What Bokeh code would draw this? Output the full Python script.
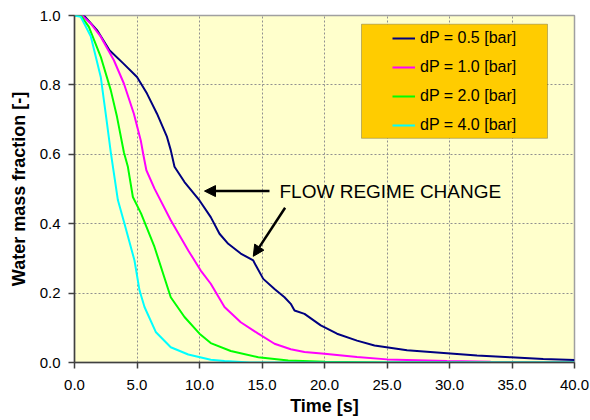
from bokeh.plotting import figure
from bokeh.models import (Range1d, FixedTicker, Legend, LegendItem, BoxAnnotation,
                          Arrow, NormalHead, Label)
from bokeh.embed import file_html
from bokeh.resources import INLINE

# ---------------- data ----------------
t_05 = [0, 0.75, 1.8, 2.8, 3.9, 5.0, 5.8, 6.6, 7.4, 7.7, 8.0, 8.8, 10.0, 10.9, 11.6,
        12.3, 13.3, 14.3, 14.5, 15.1, 16.0, 16.8, 17.3, 17.6, 18.4, 19.7, 21.0, 22.6,
        24.0, 26.6, 29.8, 32.2, 34.9, 37.5, 40.0]
v_05 = [1.0, 1.0, 0.958, 0.90, 0.862, 0.823, 0.775, 0.717, 0.65, 0.612, 0.564, 0.52,
        0.467, 0.419, 0.371, 0.342, 0.314, 0.294, 0.28, 0.241, 0.212, 0.188, 0.169,
        0.15, 0.14, 0.107, 0.083, 0.063, 0.049, 0.035, 0.027, 0.02, 0.015, 0.01, 0.007]

t_10 = [0, 0.6, 1.3, 2.1, 3.15, 3.95, 4.75, 5.3, 5.5, 5.75, 6.4, 7.7, 9.1, 10.1, 10.9,
        12.0, 13.3, 14.7, 16.0, 17.3, 18.4, 20.0, 22.6, 25.0, 29.8, 33.3, 40.0]
v_10 = [1.0, 1.0, 0.977, 0.939, 0.871, 0.804, 0.717, 0.64, 0.6, 0.554, 0.501, 0.41,
        0.323, 0.265, 0.227, 0.16, 0.116, 0.083, 0.054, 0.038, 0.03, 0.025, 0.016,
        0.009, 0.004, 0.002, 0.001]

t_20 = [0, 0.5, 1.15, 2.1, 2.9, 3.4, 3.95, 4.27, 4.67, 5.33, 6.4, 7.7, 8.8, 10.0, 10.9,
        12.5, 14.7, 17.1, 20.0, 25.0, 40.0]
v_20 = [1.0, 1.0, 0.967, 0.881, 0.785, 0.708, 0.606, 0.564, 0.477, 0.429, 0.333, 0.188,
        0.131, 0.083, 0.056, 0.033, 0.015, 0.006, 0.002, 0.0, 0.0]

t_40 = [0, 0.5, 1.3, 2.1, 2.6, 2.9, 3.47, 4.0, 4.8, 5.2, 5.6, 6.5, 7.7, 9.1, 10.9, 12.0,
        14.0, 40.0]
v_40 = [1.0, 0.996, 0.94, 0.823, 0.689, 0.606, 0.468, 0.40, 0.294, 0.208, 0.16, 0.088,
        0.044, 0.023, 0.008, 0.004, 0.0, 0.0]

series_labels = ["dP = 0.5 [bar]", "dP = 1.0 [bar]", "dP = 2.0 [bar]", "dP = 4.0 [bar]"]
series_colors = ["#000080", "#FF00FF", "#00FF00", "#00FFFF"]

x_ticks = [0, 5, 10, 15, 20, 25, 30, 35, 40]
x_tick_labels = ["0.0", "5.0", "10.0", "15.0", "20.0", "25.0", "30.0", "35.0", "40.0"]
y_ticks = [0, 0.2, 0.4, 0.6, 0.8, 1.0]
y_tick_labels = ["0.0", "0.2", "0.4", "0.6", "0.8", "1.0"]

annotation_text = "FLOW REGIME CHANGE"
arrow1 = (15.6, 0.494, 10.4, 0.494)   # x_start, y_start, x_end, y_end
arrow2 = (16.85, 0.446, 14.3, 0.306)
text_pos = (16.4, 0.494)
legend_box = (22.96, 37.84, 0.646, 0.975)  # left, right, bottom, top (data units)

FONT = "Liberation Sans"

# ---------------- figure ----------------
p = figure(width=590, height=420, output_backend="svg", toolbar_location=None,
           x_range=Range1d(0, 40), y_range=Range1d(0, 1),
           min_border_left=74, min_border_right=16, min_border_top=15,
           min_border_bottom=58)
p.background_fill_color = "#FFFFCC"
p.border_fill_color = "white"
p.outline_line_color = "#A0A0A0"
p.outline_line_width = 1.5

for ax, ticks, labels in ((p.xaxis[0], x_ticks, x_tick_labels),
                          (p.yaxis[0], y_ticks, y_tick_labels)):
    ax.ticker = FixedTicker(ticks=ticks)
    ax.major_label_overrides = {t: l for t, l in zip(ticks, labels)}
    ax.major_label_text_font = FONT
    ax.major_label_text_font_size = "15px"
    ax.major_label_text_color = "black"
    ax.axis_line_color = "#404040"
    ax.axis_line_width = 1.5
    ax.major_tick_line_color = "#404040"
    ax.major_tick_line_width = 1.5
    ax.major_tick_out = 6
    ax.major_tick_in = 0
    ax.minor_tick_line_color = None
    ax.axis_label_text_font = FONT
    ax.axis_label_text_font_size = "18px"
    ax.axis_label_text_font_style = "bold"
    ax.axis_label_text_color = "black"

p.xaxis.axis_label = "Time [s]"
p.yaxis.axis_label = "Water mass fraction [-]"
p.xaxis.major_label_standoff = 11
p.yaxis.major_label_standoff = 8
p.xaxis.axis_label_standoff = 3
p.yaxis.axis_label_standoff = 8

for g in (p.xgrid[0], p.ygrid[0]):
    g.grid_line_color = "#909090"
    g.grid_line_dash = "2 2"
    g.grid_line_width = 1

renderers = []
for tt, vv, col in ((t_05, v_05, series_colors[0]), (t_10, v_10, series_colors[1]),
                    (t_20, v_20, series_colors[2]), (t_40, v_40, series_colors[3])):
    r = p.line(tt, vv, line_color=col, line_width=2)
    renderers.append(r)

# legend background box
box = BoxAnnotation(left=legend_box[0], right=legend_box[1], bottom=legend_box[2],
                    top=legend_box[3], fill_color="#FFCC00", fill_alpha=1.0,
                    line_color="#303030", line_width=1)
p.add_layout(box)

legend = Legend(items=[LegendItem(label=l, renderers=[r])
                       for l, r in zip(series_labels, renderers)],
                location=(314, 223))
legend.background_fill_alpha = 0
legend.border_line_alpha = 0
legend.padding = 4
legend.spacing = 9
legend.margin = 0
legend.glyph_width = 23
legend.glyph_height = 20
legend.label_height = 20
legend.label_standoff = 5
legend.label_text_font = FONT
legend.label_text_font_size = "16px"
legend.label_text_color = "black"
p.add_layout(legend)

for a in (arrow1, arrow2):
    p.add_layout(Arrow(end=NormalHead(size=11, fill_color="black", line_color="black"),
                       x_start=a[0], y_start=a[1], x_end=a[2], y_end=a[3],
                       line_color="black", line_width=2.5))

p.add_layout(Label(x=text_pos[0], y=text_pos[1], text=annotation_text,
                   text_baseline="middle", text_font=FONT, text_font_size="19px",
                   text_color="black"))

open("out.html", "w").write(file_html(p, INLINE))
